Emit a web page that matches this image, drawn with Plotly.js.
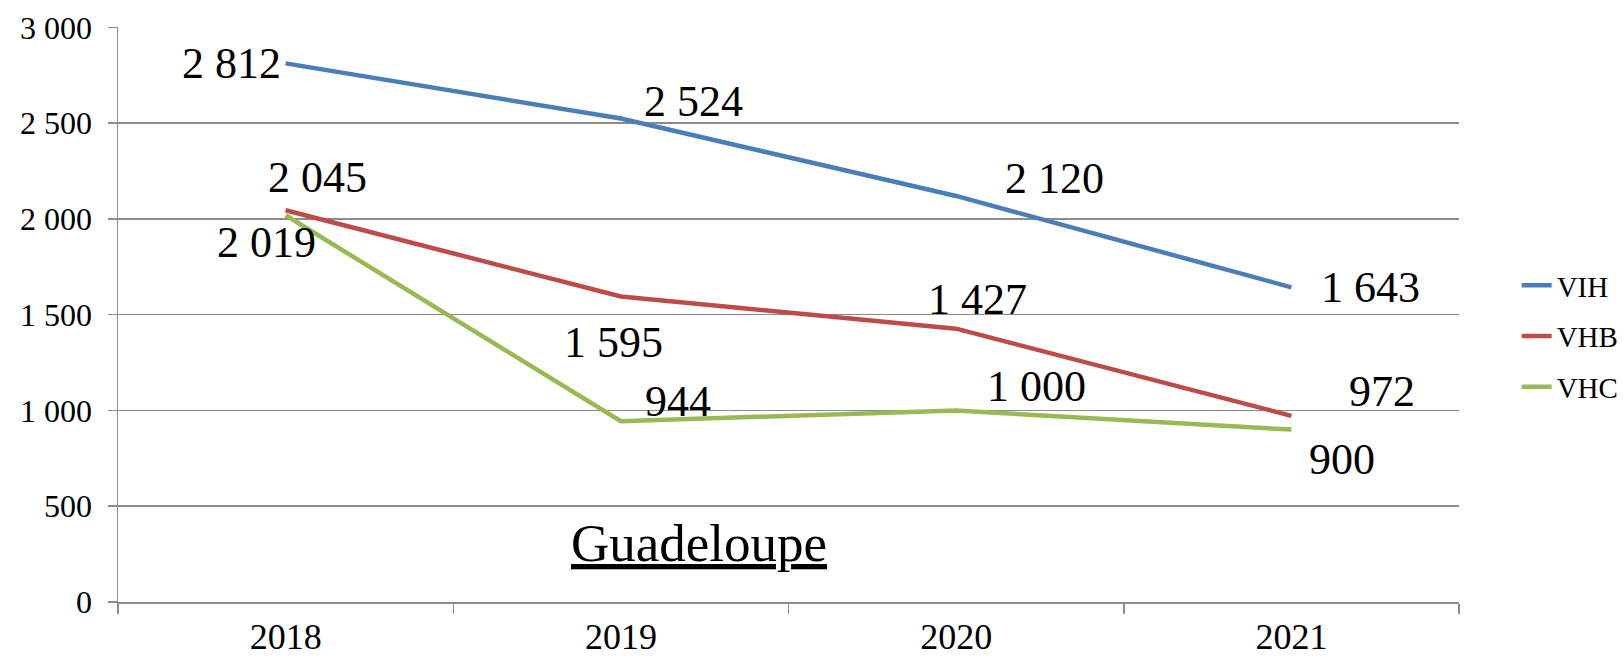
<!DOCTYPE html>
<html>
<head>
<meta charset="utf-8">
<script src="https://cdn.plot.ly/plotly-3.0.1.min.js"></script>
<style>
  html, body { margin: 0; padding: 0; background: #ffffff; }
  #chart { width: 1623px; height: 658px; }
</style>
</head>
<body>
<div id="chart"></div>
<script>
// ---- Data ----
const years = ['2018', '2019', '2020', '2021'];
const seriesNames = ['VIH', 'VHB', 'VHC'];
const vih = [2812, 2524, 2120, 1643];
const vhb = [2045, 1595, 1427, 972];
const vhc = [2019, 944, 1000, 900];
const chartLabel = 'Guadeloupe';

// ---- Styles ----
const colors = ['#4A7EBB', '#BE4B48', '#98B954'];
// label offsets in pixels (dx, dy downward) relative to each point
const labelOffsets = [
  [[-54, 0], [73, -17], [98, -17], [79, 0]],
  [[32, -33], [-7, 46], [21, -29], [91, -24]],
  [[-19, 27], [57, -20], [80, -24], [51, 30]]
];

const FONT = '"Liberation Serif", "Times New Roman", serif';
const GRID = '#8C8C8C';

function fmt(v) {
  return String(v).replace(/\B(?=(\d{3})+(?!\d))/g, '\u00A0');
}

const allSeries = [vih, vhb, vhc];
const traces = allSeries.map((vals, i) => ({
  type: 'scatter',
  mode: 'lines',
  name: seriesNames[i],
  x: years,
  y: vals,
  legendgroup: 'g' + i,
  line: { color: colors[i], width: 4.5 },
  hoverinfo: 'x+y+name'
}));

const annotations = [];
allSeries.forEach((vals, i) => {
  vals.forEach((v, j) => {
    annotations.push({
      x: j, y: v, xref: 'x', yref: 'y',   // j = category index of years[j]
      text: fmt(v), showarrow: false,
      xanchor: 'center', yanchor: 'middle',
      xshift: labelOffsets[i][j][0], yshift: -labelOffsets[i][j][1],
      font: { family: FONT, size: 44, color: '#000000' }
    });
  });
});
annotations.push({
  x: 0.433, y: 0.102, xref: 'paper', yref: 'paper',
  text: '<u>' + chartLabel + '</u>', showarrow: false,
  xanchor: 'center', yanchor: 'middle',
  font: { family: FONT, size: 53, color: '#000000' }
});

const layout = {
  width: 1623, height: 658,
  margin: { l: 118, r: 164, t: 27, b: 56, pad: 0, autoexpand: false },
  paper_bgcolor: '#ffffff', plot_bgcolor: '#ffffff',
  separators: '. ',
  showlegend: true,
  legend: {
    x: 1.043, xanchor: 'left', y: 0.595, yanchor: 'top',
    font: { family: FONT, size: 29, color: '#000000' },
    traceorder: 'grouped', tracegroupgap: 10,
    bgcolor: 'rgba(0,0,0,0)', borderwidth: 0
  },
  xaxis: {
    type: 'category', range: [-0.5, 3.5],
    showgrid: false, zeroline: false,
    showline: true, linecolor: GRID, linewidth: 1.5,
    ticks: 'outside', tickson: 'boundaries', ticklen: 10, tickcolor: GRID, tickwidth: 1.5,
    tickfont: { family: FONT, size: 36, color: '#000000' },
    ticklabelstandoff: 2
  },
  yaxis: {
    range: [0, 3002], tickmode: 'linear', tick0: 0, dtick: 500,
    separatethousands: true,
    showgrid: true, gridcolor: GRID, gridwidth: 1.5,
    zeroline: false,
    showline: true, linecolor: GRID, linewidth: 1.5,
    ticks: 'outside', ticklen: 9, tickcolor: GRID, tickwidth: 1.5,
    tickfont: { family: FONT, size: 32, color: '#000000' },
    ticklabelstandoff: 9
  },
  annotations: annotations
};

Plotly.newPlot('chart', traces, layout, { displayModeBar: false, staticPlot: true });
</script>
</body>
</html>
